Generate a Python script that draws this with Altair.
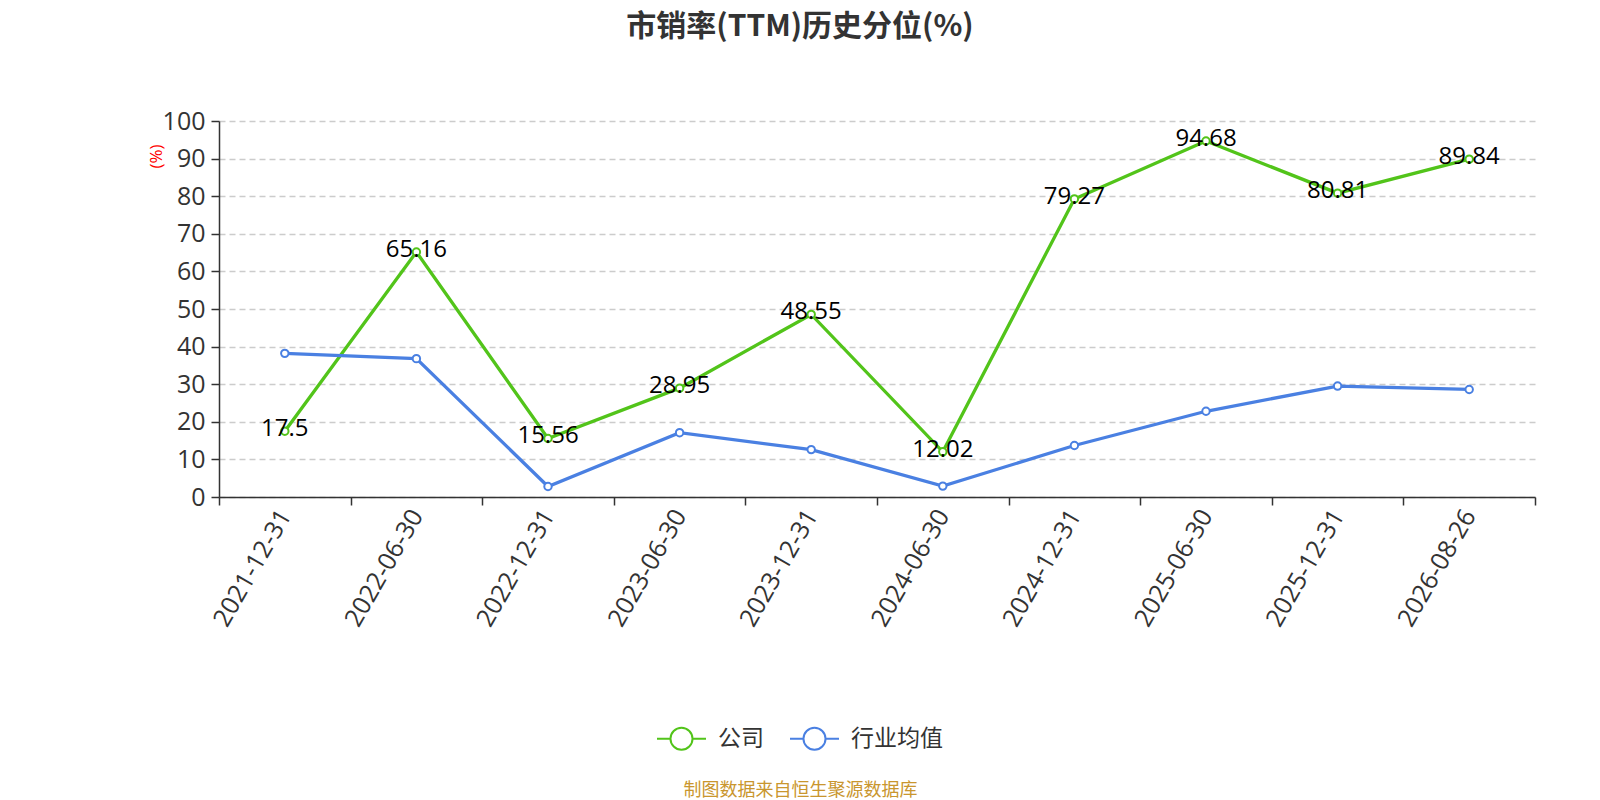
import altair as alt
import pandas as pd

dates = ["2021-12-31", "2022-06-30", "2022-12-31", "2023-06-30", "2023-12-31",
         "2024-06-30", "2024-12-31", "2025-06-30", "2025-12-31", "2026-08-26"]
company = [17.5, 65.16, 15.56, 28.95, 48.55, 12.02, 79.27, 94.68, 80.81, 89.84]
industry = [38.2, 36.8, 2.8, 17.1, 12.6, 2.9, 13.7, 22.8, 29.5, 28.6]
series_names = ["公司", "行业均值"]
colors = ["#52c41a", "#4a80e2"]

rows = []
for d, c, i in zip(dates, company, industry):
    rows.append({"date": d, "series": series_names[0], "value": c})
    rows.append({"date": d, "series": series_names[1], "value": i})
df = pd.DataFrame(rows)
df_company = pd.DataFrame({"date": dates, "value": company})

CJK = "Noto Sans CJK SC"
NUM = "Open Sans"
legend_path = ("M-1,0L-0.45,0M0.45,0L1,0"
               "M-0.45,0A0.45,0.45 0 1,1 0.45,0A0.45,0.45 0 1,1 -0.45,0Z")

x_enc = alt.X("date:N", sort=dates, scale=alt.Scale(paddingInner=0, paddingOuter=0),
              axis=alt.Axis(title="制图数据来自恒生聚源数据库", titleColor="#c9962e",
                            titleFontSize=18, titleFontWeight="normal", titleFont=CJK,
                            titleX=581, titleY=293, titleAlign="center", titleBaseline="middle",
                            labelAngle=-60, labelAlign="right", labelBaseline="middle",
                            labelFontSize=25, labelColor="#333333", labelFont=NUM,
                            labelPadding=6, labelOverlap=False, tickBand="extent",
                            tickSize=8, tickColor="#333333",
                            domainColor="#333333", domainWidth=1.5, tickWidth=1.5, grid=False))

y_enc = alt.Y("value:Q", scale=alt.Scale(domain=[0, 100], nice=False),
              axis=alt.Axis(values=list(range(0, 101, 10)), title="(%)", titleColor="#ff0000",
                            titleFontSize=17, titleFontWeight="normal", titleFont=NUM,
                            titleAngle=-90, titleX=-63, titleY=35, titleAlign="center",
                            titleBaseline="middle", labelOverlap=False,
                            labelFontSize=25, labelColor="#333333", labelFont=NUM, labelPadding=6,
                            tickSize=8, tickColor="#333333", domainColor="#333333",
                            domainWidth=1.5, tickWidth=1.5,
                            grid=True, gridDash=[6, 4], gridColor="#cccccc", gridWidth=1.3))

color_enc = alt.Color("series:N", sort=series_names,
                      scale=alt.Scale(domain=series_names, range=colors),
                      legend=alt.Legend(title=None, orient="none", direction="horizontal",
                                        legendX=437, legendY=592,
                                        symbolType=legend_path, symbolSize=2401,
                                        symbolStrokeWidth=2, symbolFillColor="white",
                                        labelFontSize=23, labelColor="#333333", labelFont=CJK,
                                        columnPadding=22, labelOffset=11))

lines = alt.Chart(df).mark_line(
    strokeWidth=3.3,
    point=alt.OverlayMarkDef(filled=False, fill="white", size=55, strokeWidth=2)
).encode(x=x_enc, y=y_enc, color=color_enc)

labels = alt.Chart(df_company).mark_text(
    fontSize=24, color="#000000", font=NUM, align="center", baseline="middle", dy=-2
).encode(x=x_enc, y=y_enc, text=alt.Text("value:Q"))

chart = alt.layer(lines, labels).properties(
    width=1316, height=376,
    title=alt.TitleParams("市销率(TTM)历史分位(%)", fontSize=30, fontWeight="bold",
                          color="#333333", font=CJK, anchor="middle", dx=-77, offset=67),
    padding={"left": 211, "top": 113, "right": 50, "bottom": 303},
    autosize=alt.AutoSizeParams(type="none"),
).configure_view(stroke=None)

chart.save("out.html", embed_options={"renderer": "svg", "actions": False})
